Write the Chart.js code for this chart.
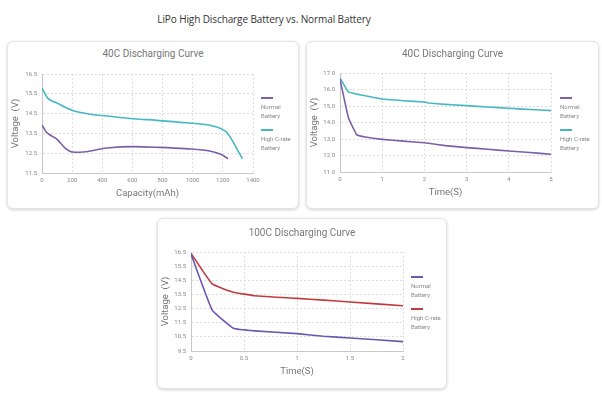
<!DOCTYPE html>
<html>
<head>
<meta charset="utf-8">
<script src="https://cdn.jsdelivr.net/npm/chart.js@4.4.0/dist/chart.umd.min.js"></script>
<style>
  body { margin: 0; background: #fff; width: 602px; height: 394px; position: relative; overflow: hidden; font-family: Roboto, sans-serif; }
  #mainTitle { position: absolute; left: 155px; top: 12px; width: 218px; text-align: center; font-family: "Open Sans", sans-serif; font-size: 10px; color: #333; white-space: nowrap; letter-spacing: -0.1px; }
  .card { position: absolute; background: #fff; border: 1px solid #e4e4e4; border-radius: 6px; box-shadow: 0 1px 3px rgba(0,0,0,0.18); }
  .card canvas { position: absolute; left: 0; top: 0; }
  .ctitle { position: absolute; left: 0; right: 0; text-align: center; font-size: 10px; color: #777; }
  .legend { position: absolute; font-size: 6px; color: #888; line-height: 9px; }
  .legend .sw { width: 12px; height: 2px; margin-bottom: 3px; }
  .legend .item { margin-bottom: 9px; }
</style>
</head>
<body>
<div id="mainTitle">LiPo High Discharge Battery vs. Normal Battery</div>

<div class="card" style="left:7px;top:41px;width:290px;height:166px">
  <div class="ctitle" style="top:6px">40C Discharging Curve</div>
  <canvas id="c1" width="290" height="166"></canvas>
  <div class="legend" style="left:253px;top:55px">
    <div class="item"><div class="sw" style="background:#7c5fa8"></div>Normal<br>Battery</div>
    <div class="item"><div class="sw" style="background:#45b8c3"></div>High C-rate<br>Battery</div>
  </div>
</div>

<div class="card" style="left:306px;top:41px;width:291px;height:166px">
  <div class="ctitle" style="top:6px">40C Discharging Curve</div>
  <canvas id="c2" width="291" height="166"></canvas>
  <div class="legend" style="left:253px;top:55px">
    <div class="item"><div class="sw" style="background:#7c5fa8"></div>Normal<br>Battery</div>
    <div class="item"><div class="sw" style="background:#45b8c3"></div>High C-rate<br>Battery</div>
  </div>
</div>

<div class="card" style="left:157px;top:218px;width:288px;height:169px">
  <div class="ctitle" style="top:8px">100C Discharging Curve</div>
  <canvas id="c3" width="288" height="169"></canvas>
  <div class="legend" style="left:253px;top:57px">
    <div class="item"><div class="sw" style="background:#6b58b0"></div>Normal<br>Battery</div>
    <div class="item"><div class="sw" style="background:#c03a42"></div>High C-rate<br>Battery</div>
  </div>
</div>

<script>
// 40C, voltage vs capacity
const capNormal1 = [0, 25, 100, 150, 200, 250, 430, 610, 760, 950, 1120, 1190, 1234];
const voltNormal1 = [13.93, 13.6, 13.2, 12.78, 12.56, 12.55, 12.76, 12.83, 12.8, 12.73, 12.6, 12.43, 12.22];
const capHigh1 = [0, 40, 95, 200, 320, 430, 610, 760, 950, 1120, 1190, 1225, 1256, 1290, 1330];
const voltHigh1 = [15.78, 15.27, 15.05, 14.67, 14.47, 14.38, 14.24, 14.16, 14.04, 13.9, 13.73, 13.56, 13.22, 12.76, 12.22];
const xTicks1 = [0, 200, 400, 600, 800, 1000, 1200, 1400];
const yTicks1 = [11.5, 12.5, 13.5, 14.5, 15.5, 16.5];

// 40C, voltage vs time
const time2 = [0, 0.2, 0.4, 0.6, 1, 1.5, 2, 2.1, 2.5, 3, 3.5, 4, 4.5, 5];
const voltNormal2 = [16.62, 14.29, 13.25, 13.12, 12.98, 12.87, 12.77, 12.74, 12.6, 12.48, 12.38, 12.27, 12.18, 12.08];
const voltHigh2 = [16.7, 15.85, 15.72, 15.62, 15.42, 15.32, 15.24, 15.18, 15.1, 15.02, 14.94, 14.86, 14.79, 14.72];
const xTicks2 = [0, 1, 2, 3, 4, 5];
const yTicks2 = [11, 12, 13, 14, 15, 16, 17];

// 100C, voltage vs time
const time3 = [0, 0.2, 0.4, 0.6, 1, 1.25, 1.5, 2];
const voltNormal3 = [16.35, 12.39, 11.11, 10.92, 10.73, 10.54, 10.42, 10.16];
const voltHigh3 = [16.4, 14.24, 13.65, 13.41, 13.22, 13.1, 12.96, 12.7];
const xTicks3 = [0, 0.5, 1, 1.5, 2];
const yTicks3 = [9.5, 10.5, 11.5, 12.5, 13.5, 14.5, 15.5, 16.5];

function pts(xs, ys) {
  return xs.map((x, i) => ({ x: x, y: ys[i] }));
}

function makeChart(id, cfg) {
  const tickFont = { family: "Roboto", size: 6 };
  const titleFont = { family: "Roboto", size: 9.5 };
  return new Chart(document.getElementById(id), {
    type: "line",
    data: {
      datasets: [
        { label: "Normal Battery", data: cfg.normal, borderColor: cfg.colors[0], borderWidth: 1.6, pointRadius: 0, tension: cfg.tension, cubicInterpolationMode: cfg.mode, fill: false },
        { label: "High C-rate Battery", data: cfg.high, borderColor: cfg.colors[1], borderWidth: 1.6, pointRadius: 0, tension: cfg.tension, cubicInterpolationMode: cfg.mode, fill: false },
      ],
    },
    options: {
      responsive: false,
      animation: false,
      layout: { padding: cfg.padding },
      scales: {
        x: {
          type: "linear",
          min: cfg.xTicks[0],
          max: cfg.xTicks[cfg.xTicks.length - 1],
          afterBuildTicks: (s) => { s.ticks = cfg.xTicks.map((v) => ({ value: v })); },
          afterFit: (s) => { s.height = 26; },
          grid: { color: "#dedede", drawTicks: false },
          border: { color: "#c8c8c8", dash: [2, 2] },
          ticks: { font: tickFont, color: "#888", padding: 4, maxRotation: 0, callback: (v) => String(v) },
          title: { display: true, text: cfg.xTitle, font: titleFont, color: "#777", padding: 0 },
        },
        y: {
          min: cfg.yTicks[0],
          max: cfg.yTicks[cfg.yTicks.length - 1],
          afterBuildTicks: (s) => { s.ticks = cfg.yTicks.map((v) => ({ value: v })); },
          afterFit: (s) => { s.width = cfg.yWidth; },
          grid: { color: "#dedede", drawTicks: false },
          border: { color: "#c8c8c8", dash: [2, 2] },
          ticks: { font: tickFont, color: "#888", padding: 5, callback: cfg.yFmt },
          title: { display: true, text: "Voltage  (V)", font: titleFont, color: "#777", padding: 0 },
        },
      },
      plugins: { legend: { display: false }, tooltip: { enabled: false } },
    },
  });
}

makeChart("c1", {
  normal: pts(capNormal1, voltNormal1),
  high: pts(capHigh1, voltHigh1),
  colors: ["#7c5fa8", "#45b8c3"],
  tension: 0.4,
  mode: "monotone",
  xTicks: xTicks1, yTicks: yTicks1,
  xTitle: "Capacity(mAh)",
  yWidth: 32,
  yFmt: (v) => v.toFixed(1),
  padding: { left: 2, top: 32, right: 45, bottom: 9 },
});

makeChart("c2", {
  normal: pts(time2, voltNormal2),
  high: pts(time2, voltHigh2),
  colors: ["#7c5fa8", "#45b8c3"],
  tension: 0.1,
  mode: "default",
  xTicks: xTicks2, yTicks: yTicks2,
  xTitle: "Time(S)",
  yWidth: 31,
  yFmt: (v) => v.toFixed(1),
  padding: { left: 2, top: 31, right: 47, bottom: 10 },
});

makeChart("c3", {
  normal: pts(time3, voltNormal3),
  high: pts(time3, voltHigh3),
  colors: ["#6b58b0", "#c03a42"],
  tension: 0.1,
  mode: "default",
  xTicks: xTicks3, yTicks: yTicks3,
  xTitle: "Time(S)",
  yWidth: 31,
  yFmt: (v) => String(v),
  padding: { left: 2, top: 33, right: 43, bottom: 11 },
});
</script>
</body>
</html>
